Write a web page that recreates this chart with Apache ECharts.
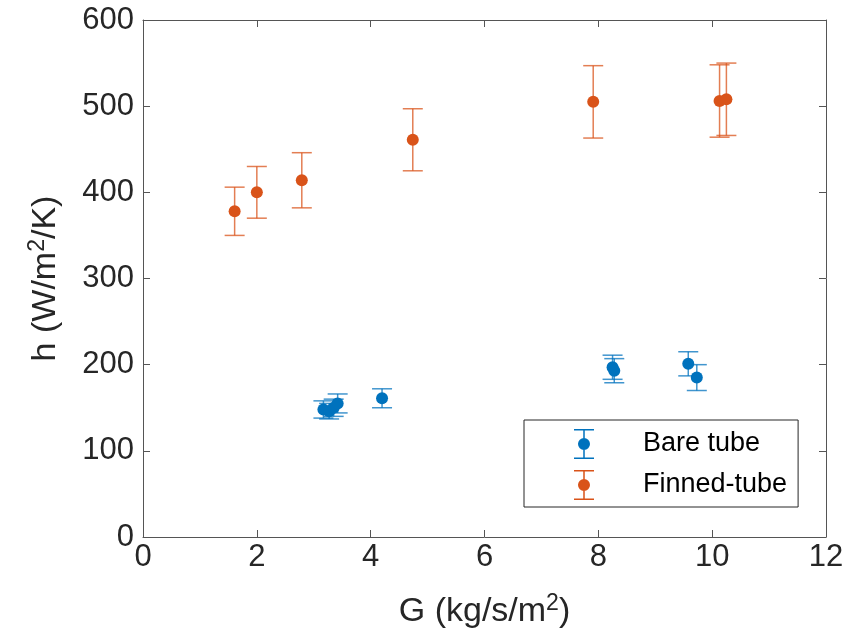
<!DOCTYPE html>
<html><head><meta charset="utf-8">
<script src="https://cdn.jsdelivr.net/npm/echarts@6/dist/echarts.min.js"></script>
<style>html,body{margin:0;padding:0;background:#fff}#c{width:861px;height:642px}</style>
</head><body><div id="c"></div>
<script>
const bareG   = [3.17, 3.27, 3.35, 3.42, 4.20, 8.25, 8.28, 9.58, 9.73];
const bareH   = [148, 146, 150, 155, 161, 197, 193, 201, 185];
const bareErr = [10, 9, 10, 11, 11, 14, 14, 14, 15];
const finG    = [1.61, 2.00, 2.79, 4.74, 7.91, 10.13, 10.25];
const finH    = [378, 400, 414, 461, 505, 506, 508];
const finErr  = [28, 30, 32, 36, 42, 42, 42];
const xTicks = [0, 2, 4, 6, 8, 10, 12];
const yTicks = [0, 100, 200, 300, 400, 500, 600];

const BLUE = '#0072BD', ORANGE = '#D95319';
const FONT = 'Liberation Sans, Arial, Helvetica, sans-serif';
const TXT = '#262626';

function pts(g, h) { return g.map((v, i) => [v, h[i]]); }
function errData(g, h, e) { return g.map((v, i) => [v, h[i] - e[i], h[i] + e[i]]); }

function errRender(color) {
  return function (params, api) {
    const x = api.value(0), lo = api.value(1), hi = api.value(2);
    const pLo = api.coord([x, lo]), pHi = api.coord([x, hi]);
    const cw = 10;
    const st = { stroke: color, lineWidth: 1.5, opacity: 0.75 };
    return {
      type: 'group',
      children: [
        { type: 'line', shape: { x1: pLo[0], y1: pLo[1], x2: pHi[0], y2: pHi[1] }, style: st },
        { type: 'line', shape: { x1: pLo[0] - cw, y1: pLo[1], x2: pLo[0] + cw, y2: pLo[1] }, style: st },
        { type: 'line', shape: { x1: pHi[0] - cw, y1: pHi[1], x2: pHi[0] + cw, y2: pHi[1] }, style: st }
      ]
    };
  };
}

const icon = 'path://M0,0H20V1.5H0Z M9.25,0H10.75V30H9.25Z M0,28.5H20V30H0Z M10,9A6,6 0 1 1 10,21A6,6 0 1 1 10,9Z';

const axisCommon = {
  type: 'value', min: 0, splitLine: { show: false },
  axisLine: { show: true, onZero: false, lineStyle: { color: '#555', width: 1 } },
  axisTick: { show: true, inside: true, length: 7, lineStyle: { color: '#555', width: 1 } },
};
const supStyle = { fontSize: 23, verticalAlign: 'top', padding: [0, 0, 16, 0], color: TXT, fontFamily: FONT };

const chart = echarts.init(document.getElementById('c'), null, { renderer: 'canvas' });
chart.setOption({
  animation: false,
  backgroundColor: '#fff',
  grid: { left: 143, top: 20, right: 35, bottom: 105 },
  xAxis: [
    Object.assign({}, axisCommon, {
      position: 'bottom', max: 12, interval: 2,
      axisLabel: { color: TXT, fontSize: 31, fontFamily: FONT, margin: 5, formatter: v => String(v) },
      name: 'G (kg/s/m{sup|2})', nameLocation: 'middle', nameGap: 55,
      nameTextStyle: { color: TXT, fontSize: 34, fontFamily: FONT, rich: { sup: supStyle } }
    }),
    Object.assign({}, axisCommon, { position: 'top', max: 12, interval: 2, axisLabel: { show: false } })
  ],
  yAxis: [
    Object.assign({}, axisCommon, {
      position: 'left', max: 600, interval: 100,
      axisLabel: { color: TXT, fontSize: 31, fontFamily: FONT, margin: 9 },
      name: 'h (W/m{sup|2}/K)', nameLocation: 'middle', nameGap: 78,
      nameTextStyle: { color: TXT, fontSize: 34, fontFamily: FONT, rich: { sup: supStyle } }
    }),
    Object.assign({}, axisCommon, { position: 'right', max: 600, interval: 100, axisLabel: { show: false } })
  ],
  legend: {
    left: 524, top: 420, orient: 'vertical',
    itemWidth: 20, itemHeight: 30, itemGap: 11,
    padding: [9, 11, 7, 50],
    borderColor: '#262626', borderWidth: 1, backgroundColor: '#fff',
    textStyle: { color: '#000', fontSize: 27, fontFamily: FONT, padding: [0, 0, 0, 44] },
    data: [
      { name: 'Bare tube', icon: icon, itemStyle: { color: BLUE } },
      { name: 'Finned-tube', icon: icon, itemStyle: { color: ORANGE } }
    ]
  },
  series: [
    { name: 'Bare tube', type: 'custom', renderItem: errRender(BLUE), data: errData(bareG, bareH, bareErr),
      encode: { x: 0, y: [1, 2] }, itemStyle: { color: BLUE }, z: 2 },
    { name: 'Finned-tube', type: 'custom', renderItem: errRender(ORANGE), data: errData(finG, finH, finErr),
      encode: { x: 0, y: [1, 2] }, itemStyle: { color: ORANGE }, z: 2 },
    { name: 'Bare tube', type: 'scatter', data: pts(bareG, bareH), symbol: 'circle', symbolSize: 12,
      itemStyle: { color: BLUE, opacity: 1 }, z: 3 },
    { name: 'Finned-tube', type: 'scatter', data: pts(finG, finH), symbol: 'circle', symbolSize: 12,
      itemStyle: { color: ORANGE, opacity: 1 }, z: 3 }
  ]
});
</script></body></html>
